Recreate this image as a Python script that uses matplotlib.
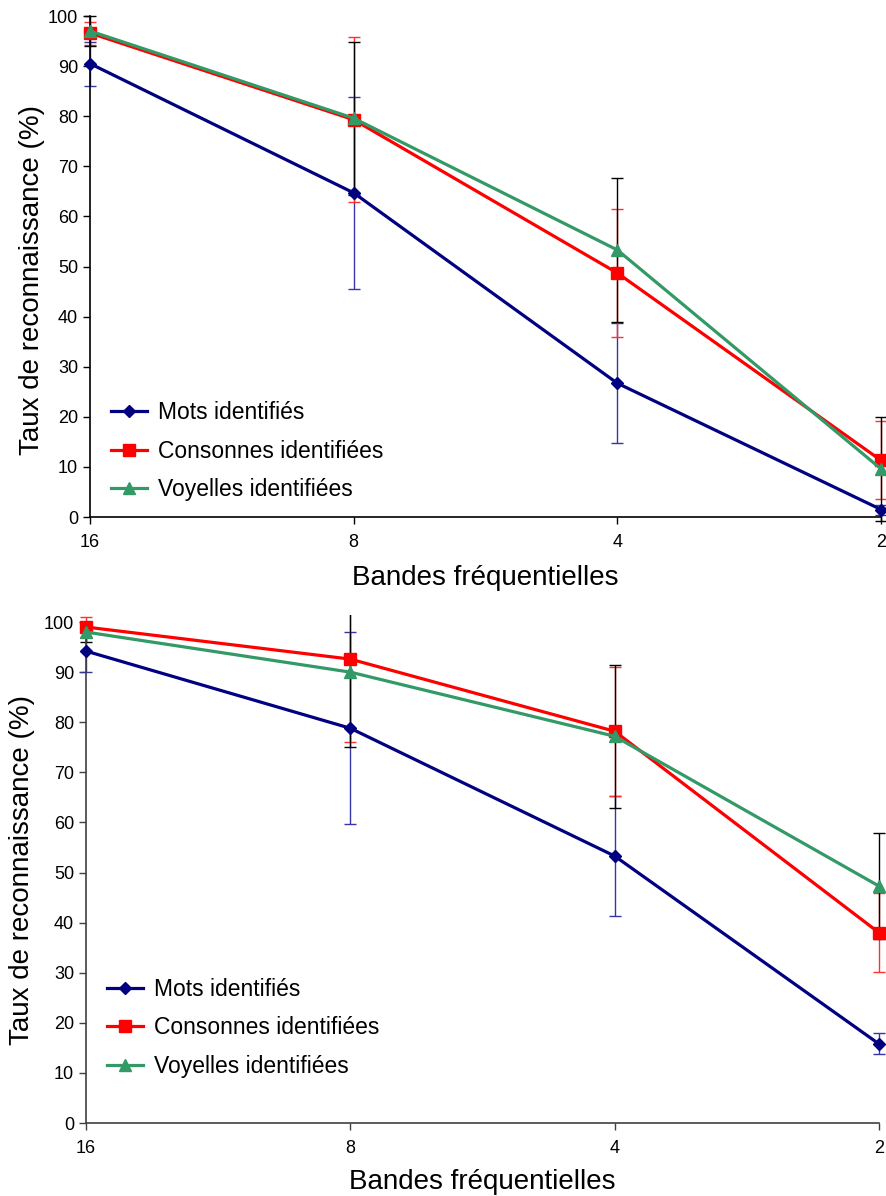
import matplotlib
matplotlib.use("Agg")
import matplotlib.pyplot as plt
from matplotlib.patches import Rectangle
import numpy as np

plt.rcParams['font.family'] = ['Liberation Sans', 'DejaVu Sans']

bands = ["16", "8", "4", "2"]
series_names = ["Mots identifiés", "Consonnes identifiées", "Voyelles identifiées"]

# Top panel
top_mots = [90.5, 64.7, 26.7, 1.5]
top_mots_err = [4.4, 19.1, 12.0, 1.0]
top_cons = [96.6, 79.3, 48.7, 11.3]
top_cons_err = [2.3, 16.5, 12.8, 7.8]
top_voy = [97.0, 79.6, 53.3, 9.6]
top_voy_err = [3.0, 15.3, 14.3, 10.4]

# Bottom panel
bot_mots = [94.2, 78.8, 53.3, 15.8]
bot_mots_err = [4.2, 19.2, 11.9, 2.1]
bot_cons = [99.0, 92.6, 78.2, 38.0]
bot_cons_err = [2.0, 16.6, 12.9, 7.9]
bot_voy = [98.0, 90.0, 77.2, 47.3]
bot_voy_err = [2.0, 15.0, 14.3, 10.6]

line_colors = ["#000080", "#FF0000", "#339966"]
err_colors = ["#3535A5", "#FF3030", "#000000"]
markers = ["D", "s", "^"]
msizes = [6, 8, 9]

fig = plt.figure(figsize=(8.86, 11.96), dpi=100)
ax_top = fig.add_axes([0.1016, 0.5677, 0.8928, 0.4252])
ax_bot = fig.add_axes([0.0970, 0.0610, 0.8950, 0.4252])

def draw(ax, vals, errs, spine_color, legend_anchor, xlab_y, ylab_x, ylab_y):
    x = np.arange(len(bands))
    clip = Rectangle((-0.03, -0.03), 1.06, 1.03, transform=ax.transAxes)
    for i, (v, e) in enumerate(zip(vals, errs)):
        cont = ax.errorbar(x, v, yerr=e, fmt='none', ecolor=err_colors[i], elinewidth=1.0,
                           capsize=4, capthick=1.0, zorder=2)
        for art in list(cont.lines[1]) + list(cont.lines[2]):
            art.set_clip_path(clip)
    for i, v in enumerate(vals):
        ax.plot(x, v, color=line_colors[i], lw=2.3, marker=markers[i], ms=msizes[i],
                markeredgecolor=line_colors[i], label=series_names[i], zorder=3, clip_on=False)
    ax.set_xlim(0, len(bands) - 1)
    ax.set_ylim(0, 101.5)
    ax.set_yticks(np.arange(0, 101, 10))
    ax.set_xticks(x)
    ax.set_xticklabels(bands)
    for s in ['top', 'right']:
        ax.spines[s].set_visible(False)
    ax.spines['left'].set_bounds(0, 100)
    for s in ['left', 'bottom']:
        ax.spines[s].set_color(spine_color)
        ax.spines[s].set_linewidth(1.2)
    ax.tick_params(axis='both', direction='out', length=5, width=1, colors=spine_color,
                   labelsize=13, labelcolor='black')
    ax.tick_params(axis='x', pad=7)
    ax.set_xlabel("Bandes fréquentielles", fontsize=20)
    ax.set_ylabel("Taux de reconnaissance (%)", fontsize=20)
    ax.xaxis.set_label_coords(0.5, xlab_y)
    ax.yaxis.set_label_coords(ylab_x, ylab_y)
    ax.legend(loc='lower left', bbox_to_anchor=legend_anchor, frameon=False,
              fontsize=16.5, handlelength=1.6, labelspacing=0.68, handletextpad=0.45,
              borderpad=0.4)

draw(ax_top, [top_mots, top_cons, top_voy], [top_mots_err, top_cons_err, top_voy_err],
     'black', (0.0, -0.01), -0.094, -0.057, 0.466)
draw(ax_bot, [bot_mots, bot_cons, bot_voy], [bot_mots_err, bot_cons_err, bot_voy_err],
     '#404040', (0.0, 0.048), -0.090, -0.064, 0.4975)

fig.savefig("out.png", dpi=100)
